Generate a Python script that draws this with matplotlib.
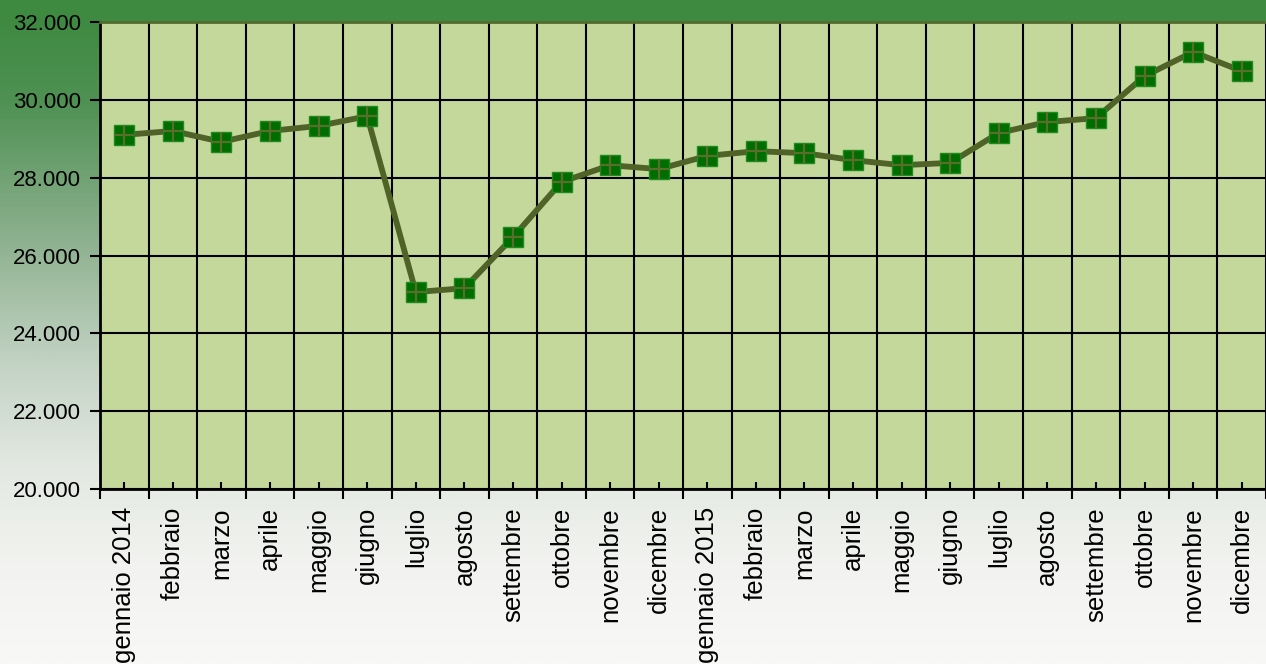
import matplotlib
matplotlib.use("Agg")
import matplotlib.pyplot as plt
import numpy as np
from matplotlib.colors import LinearSegmentedColormap
from matplotlib.ticker import FuncFormatter, FixedLocator

months = ["gennaio 2014", "febbraio", "marzo", "aprile", "maggio", "giugno",
          "luglio", "agosto", "settembre", "ottobre", "novembre", "dicembre",
          "gennaio 2015", "febbraio", "marzo", "aprile", "maggio", "giugno",
          "luglio", "agosto", "settembre", "ottobre", "novembre", "dicembre"]
values = [29100, 29200, 28920, 29200, 29330, 29580,
          25060, 25160, 26470, 27890, 28320, 28220,
          28560, 28680, 28630, 28450, 28320, 28380,
          29150, 29430, 29530, 30610, 31230, 30740]
y_ticks = [20000, 22000, 24000, 26000, 28000, 30000, 32000]

plt.rcParams['font.family'] = ['Liberation Sans', 'DejaVu Sans']

fig = plt.figure(figsize=(12.66, 6.64), dpi=100)

# background gradient
bg = fig.add_axes([0, 0, 1, 1], zorder=-10)
bg.set_axis_off()
cmap = LinearSegmentedColormap.from_list("bg", [
    (0.0, "#3e8a41"), (0.03, "#3f8a42"), (0.15, "#4f9153"), (0.35, "#8aaf8c"),
    (0.55, "#c3d3c4"), (0.70, "#e2e8e1"), (0.85, "#f2f3f0"), (1.0, "#f8f8f6")])
grad = np.linspace(0, 1, 400).reshape(-1, 1)
bg.imshow(grad, aspect='auto', cmap=cmap, extent=[0, 1, 0, 1], origin='upper')
bg.set_xlim(0, 1); bg.set_ylim(0, 1)

ax = fig.add_axes([100/1266, (664-489)/664, 1166/1266, 467/664])
ax.set_facecolor("#c5d89c")
x = np.arange(len(months))
ax.plot(x, values, color="#4f6228", lw=4.2, zorder=3, solid_capstyle='round')
ax.plot(x, values, ls='none', marker='s', ms=15, mfc="#006d00", mec="#1f8a1f",
        mew=1.0, zorder=4)
ax.plot(x, values, ls='none', marker='+', ms=15, mec="#5a6e2c", mew=1.6, zorder=5)

ax.set_xlim(-0.5, len(months) - 0.5)
ax.set_ylim(20000, 32000)
ax.xaxis.set_major_locator(FixedLocator(np.arange(-0.5, len(months), 1.0)))
ax.xaxis.set_major_formatter(FuncFormatter(lambda v, p: ""))
ax.set_xticks(x, months, minor=True)
ax.tick_params(axis='x', which='major', direction='out', length=7, width=1.5, color='black')
ax.tick_params(axis='x', which='minor', direction='in', length=5, width=1.5, color='black',
               pad=13, labelsize=18.5, labelrotation=90)
ax.set_yticks(y_ticks)
ax.yaxis.set_major_formatter(FuncFormatter(lambda v, p: f"{int(v):,}".replace(",", ".")))
ax.tick_params(axis='y', direction='out', length=7, width=1.5, labelsize=16, pad=6.5)
ax.grid(True, which='major', color='black', lw=1.5)
ax.set_axisbelow(True)
for s in ['left', 'bottom']:
    ax.spines[s].set_linewidth(2)
    ax.spines[s].set_color('black')
ax.spines['top'].set_color('#556b2f')
ax.spines['top'].set_linewidth(2)
ax.spines['right'].set_visible(False)

fig.savefig("out.png", dpi=100)
